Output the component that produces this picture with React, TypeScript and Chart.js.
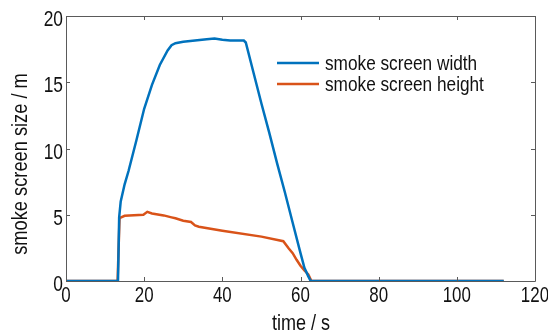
import React, { useEffect, useRef } from "react";
import { Chart, registerables } from "chart.js";

Chart.register(...registerables);

const widthTime = [0, 13.3, 13.6, 14, 15, 16, 18, 20, 22, 24, 26, 27, 28, 30, 33, 36, 38, 40, 42, 45.5, 46, 48, 50, 52, 54, 56, 58, 60, 61, 62, 62.6, 112];
const widthValues = [0, 0, 4.8, 6.0, 7.3, 8.3, 10.6, 13.0, 14.8, 16.3, 17.4, 17.8, 17.95, 18.05, 18.15, 18.25, 18.3, 18.2, 18.15, 18.15, 18.0, 15.7, 13.4, 11.2, 8.9, 6.7, 4.4, 2.1, 1.0, 0.35, 0, 0];

const heightTime = [0, 13.2, 13.7, 15, 19.8, 20.8, 22, 25, 27, 28, 30, 32, 33, 34, 40, 50, 55.6, 57, 58, 59, 60, 61, 62, 62.8, 112];
const heightValues = [0, 0, 4.75, 4.92, 5.0, 5.22, 5.1, 4.95, 4.8, 4.73, 4.55, 4.45, 4.2, 4.1, 3.8, 3.35, 3.0, 2.45, 2.1, 1.6, 1.15, 0.8, 0.5, 0, 0];

const seriesNames = ["smoke screen width", "smoke screen height"];
const seriesColors = ["#0072BD", "#D95319"];
const xTicks = [0, 20, 40, 60, 80, 100, 120];
const yTicks = [0, 5, 10, 15, 20];
const xTitle = "time / s";
const yTitle = "smoke screen size / m";

const FONT = "'Liberation Sans', Arial, sans-serif";
const AXIS_COLOR = "#5a5a5a";
const TEXT_COLOR = "#111";

function narrowText(ctx: any, text: string, x: number, y: number, size: number, squeeze: number, align: string) {
  ctx.save();
  ctx.font = `${size}px ${FONT}`;
  ctx.textAlign = align;
  ctx.textBaseline = "alphabetic";
  ctx.translate(x, y);
  ctx.scale(squeeze, 1);
  ctx.fillText(text, 0, 0);
  ctx.restore();
}

const framePlugin = {
  id: "frame",
  afterDraw(chart: any) {
    const { ctx, chartArea: a, scales } = chart;
    const xs = scales.x;
    const ys = scales.y;
    ctx.save();
    ctx.strokeStyle = AXIS_COLOR;
    ctx.lineWidth = 1;
    ctx.beginPath();
    ctx.rect(Math.round(a.left) + 0.5, Math.round(a.top) + 0.5, Math.round(a.right - a.left), Math.round(a.bottom - a.top));
    ctx.stroke();
    const tl = 4;
    ctx.beginPath();
    for (const t of xs.ticks) {
      const px = Math.round(xs.getPixelForValue(t.value)) + 0.5;
      ctx.moveTo(px, a.bottom);
      ctx.lineTo(px, a.bottom - tl);
      ctx.moveTo(px, a.top);
      ctx.lineTo(px, a.top + tl);
    }
    for (const t of ys.ticks) {
      const py = Math.round(ys.getPixelForValue(t.value)) + 0.5;
      ctx.moveTo(a.left, py);
      ctx.lineTo(a.left + tl, py);
      ctx.moveTo(a.right, py);
      ctx.lineTo(a.right - tl, py);
    }
    ctx.stroke();

    ctx.fillStyle = TEXT_COLOR;
    // tick labels
    for (const t of xs.ticks) {
      narrowText(ctx, String(t.value), xs.getPixelForValue(t.value), a.bottom + 21, 22, 0.77, "center");
    }
    for (const t of ys.ticks) {
      narrowText(ctx, String(t.value), a.left - 3, ys.getPixelForValue(t.value) + 10, 22, 0.79, "right");
    }

    // axis titles
    narrowText(ctx, xTitle, 301, 330, 22, 0.82, "center");
    ctx.save();
    ctx.translate(27, 164);
    ctx.rotate(-Math.PI / 2);
    narrowText(ctx, yTitle, 0, 0, 22, 0.83, "center");
    ctx.restore();

    // legend
    const lx0 = 277, lx1 = 319, tx = 325;
    const rows = [63, 84];
    chart.data.datasets.forEach((ds: any, i: number) => {
      ctx.strokeStyle = ds.borderColor;
      ctx.lineWidth = 2.5;
      ctx.beginPath();
      ctx.moveTo(lx0, rows[i]);
      ctx.lineTo(lx1, rows[i]);
      ctx.stroke();
      ctx.fillStyle = TEXT_COLOR;
      narrowText(ctx, ds.label, tx, rows[i] + 7, 21, 0.82, "left");
    });
    ctx.restore();
  },
};

export default function App() {
  const ref = useRef<HTMLCanvasElement | null>(null);
  useEffect(() => {
    if (!ref.current) return;
    const toPts = (xs: number[], ys: number[]) => xs.map((x, i) => ({ x, y: ys[i] }));
    const chart = new Chart(ref.current, {
      type: "line",
      data: {
        datasets: [
          {
            label: seriesNames[0],
            data: toPts(widthTime, widthValues),
            borderColor: seriesColors[0],
            borderWidth: 2.5,
            pointRadius: 0,
            tension: 0,
          },
          {
            label: seriesNames[1],
            data: toPts(heightTime, heightValues),
            borderColor: seriesColors[1],
            borderWidth: 2.5,
            pointRadius: 0,
            tension: 0,
          },
        ],
      },
      options: {
        animation: false,
        responsive: false,
        layout: { padding: { left: 0, right: 13, top: 16, bottom: 0 } },
        plugins: { legend: { display: false }, tooltip: { enabled: false } },
        scales: {
          x: {
            type: "linear",
            min: 0,
            max: 120,
            afterBuildTicks: (s: any) => {
              s.ticks = xTicks.map((v) => ({ value: v }));
            },
            afterFit: (s: any) => {
              s.height = 54;
              s.paddingLeft = 0;
              s.paddingRight = 0;
            },
            grid: { display: false, drawTicks: false },
            border: { display: false },
            ticks: { display: false },
          },
          y: {
            type: "linear",
            min: 0,
            max: 20,
            afterBuildTicks: (s: any) => {
              s.ticks = yTicks.map((v) => ({ value: v }));
            },
            afterFit: (s: any) => {
              s.width = 66;
              s.paddingTop = 0;
              s.paddingBottom = 0;
            },
            grid: { display: false, drawTicks: false },
            border: { display: false },
            ticks: { display: false },
          },
        },
      },
      plugins: [framePlugin],
    } as any);
    return () => chart.destroy();
  }, []);
  return (
    <div style={{ position: "fixed", left: 0, top: 0, width: 548, height: 335, background: "#fff" }}>
      <canvas ref={ref} width={548} height={335} style={{ width: 548, height: 335 }} />
    </div>
  );
}
